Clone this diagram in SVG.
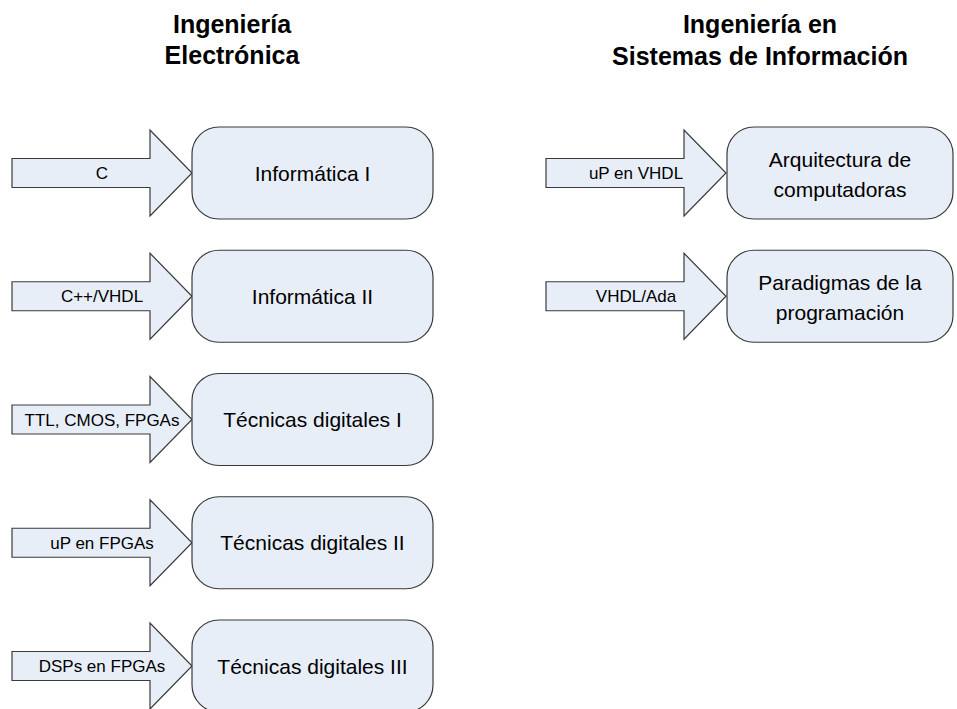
<svg xmlns="http://www.w3.org/2000/svg" width="957" height="709" viewBox="0 0 957 709">
<style>
.title{font-family:"Liberation Sans",Arial,sans-serif;font-weight:bold;font-size:25px;fill:#000;text-anchor:middle}
.box{fill:#E8EEF8;stroke:#3a3a3a;stroke-width:1.2}
.arr{fill:#E8EEF8;stroke:#3a3a3a;stroke-width:1.2;stroke-linejoin:miter}
.lbl{font-family:"Liberation Sans",Arial,sans-serif;font-size:21px;fill:#000;text-anchor:middle}
.albl{font-family:"Liberation Sans",Arial,sans-serif;font-size:17px;fill:#000;text-anchor:middle}
</style>
<defs>
<path id="arrowL" d="M12,-14.5 H150 V-43 L192,0 L150,43 V14.5 H12 Z"/>
</defs>
<rect width="957" height="709" fill="#fff"/>
<g id="titles">
<text class="title" x="232" y="33">Ingeniería</text>
<text class="title" x="232" y="64">Electrónica</text>
<text class="title" x="760" y="33">Ingeniería en</text>
<text class="title" x="760" y="65">Sistemas de Información</text>
</g>
<g id="connectors">
<g id="arrow-c" transform="translate(0,173)"><use href="#arrowL" class="arr"/><text class="albl" x="102" y="6">C</text></g>
<g id="arrow-cpp" transform="translate(0,296.25)"><use href="#arrowL" class="arr"/><text class="albl" x="102" y="6">C++/VHDL</text></g>
<g id="arrow-ttl" transform="translate(0,419.5)"><use href="#arrowL" class="arr"/><text class="albl" x="102" y="6">TTL, CMOS, FPGAs</text></g>
<g id="arrow-up" transform="translate(0,542.75)"><use href="#arrowL" class="arr"/><text class="albl" x="102" y="6">uP en FPGAs</text></g>
<g id="arrow-dsp" transform="translate(0,666)"><use href="#arrowL" class="arr"/><text class="albl" x="102" y="6">DSPs en FPGAs</text></g>
<g id="arrow-upvhdl" transform="translate(534,173)"><use href="#arrowL" class="arr"/><text class="albl" x="102" y="6">uP en VHDL</text></g>
<g id="arrow-ada" transform="translate(534,296.25)"><use href="#arrowL" class="arr"/><text class="albl" x="102" y="6">VHDL/Ada</text></g>
</g>
<g id="info1"><rect class="box" x="192" y="127" width="241" height="92" rx="27"/><text class="lbl" x="312.5" y="180.5">Informática I</text></g>
<g id="info2"><rect class="box" x="192" y="250.25" width="241" height="92" rx="27"/><text class="lbl" x="312.5" y="303.75">Informática II</text></g>
<g id="td1"><rect class="box" x="192" y="373.5" width="241" height="92" rx="27"/><text class="lbl" x="312.5" y="427">Técnicas digitales I</text></g>
<g id="td2"><rect class="box" x="192" y="496.75" width="241" height="92" rx="27"/><text class="lbl" x="312.5" y="550.25">Técnicas digitales II</text></g>
<g id="td3"><rect class="box" x="192" y="620" width="241" height="92" rx="27"/><text class="lbl" x="312.5" y="673.5">Técnicas digitales III</text></g>
<g id="arq"><rect class="box" x="727" y="127" width="226" height="92" rx="27"/><text class="lbl" x="840" y="166.5">Arquitectura de</text><text class="lbl" x="840" y="196.5">computadoras</text></g>
<g id="para"><rect class="box" x="727" y="250.25" width="226" height="92" rx="27"/><text class="lbl" x="840" y="289.75">Paradigmas de la</text><text class="lbl" x="840" y="319.75">programación</text></g>
</svg>
